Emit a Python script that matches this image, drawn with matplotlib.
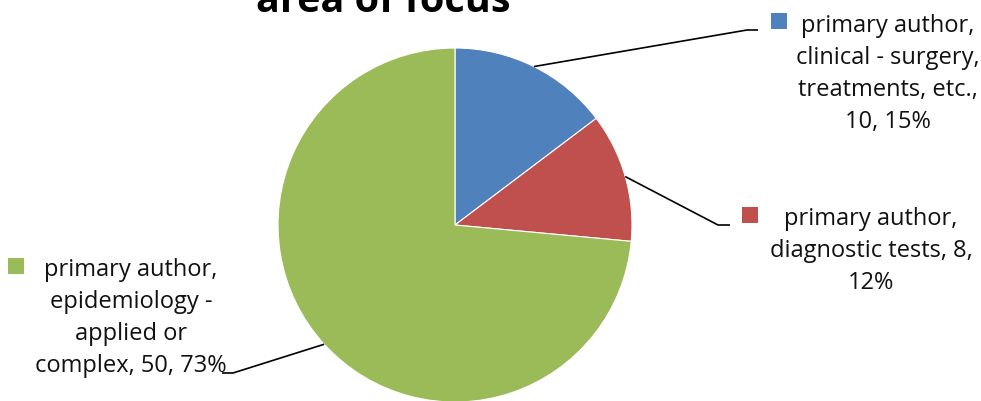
import textwrap
import numpy as np
import matplotlib.pyplot as plt

W, H = 981, 401

# data
categories = ["primary author, clinical - surgery, treatments, etc.",
              "primary author, diagnostic tests",
              "primary author, epidemiology - applied or complex"]
values = [10, 8, 50]
colors = ["#4F81BD", "#C0504D", "#9BBB59"]
title = "area of focus"

# layout (pixel coords, y measured from top)
center_px = (455, 225)
radius_px = 177
wrap_widths = [19, 20, 16]
label_pos = [(888, 74), (871, 251), (131, 318)]
key_pos = [(779, 21), (750, 215), (16, 266)]
elbows = [[(747, 30), (758, 30)],
          [(718, 225), (730, 225)],
          [(233, 373), (222, 373)]]


def py(y):
    return H - y


# percentages rounded so they add to 100 (like Excel)
vals = np.array(values, dtype=float)
raw = vals / vals.sum() * 100
pct = np.floor(raw).astype(int)
left = 100 - pct.sum()
for i in np.argsort(-(raw - pct))[:left]:
    pct[i] += 1

plt.rcParams['font.family'] = ['Open Sans', 'DejaVu Sans']
fig = plt.figure(figsize=(W / 100, H / 100), dpi=100)
ax = fig.add_axes([0, 0, 1, 1])

wedges, _ = ax.pie(values, colors=colors, startangle=90, counterclock=False,
                   center=(center_px[0], py(center_px[1])), radius=radius_px,
                   wedgeprops=dict(edgecolor='white', linewidth=0.8))

for i, w in enumerate(wedges):
    mid = np.deg2rad((w.theta1 + w.theta2) / 2)
    x0 = center_px[0] + radius_px * np.cos(mid)
    y0 = py(center_px[1]) + radius_px * np.sin(mid)
    xs = [x0] + [p[0] for p in elbows[i]]
    ys = [y0] + [py(p[1]) for p in elbows[i]]
    ax.plot(xs, ys, color='black', lw=1.2, solid_capstyle='butt')

    txt = textwrap.fill(f"{categories[i]}, {values[i]}, {pct[i]}%", wrap_widths[i])
    ax.text(label_pos[i][0], py(label_pos[i][1]), txt, ha='center', va='center',
            multialignment='center', fontsize=17, linespacing=1.45, color='#111111')
    ax.scatter([key_pos[i][0]], [py(key_pos[i][1])], marker='s', s=120,
               color=colors[i], linewidths=0)

ax.text(383, py(12), title, ha='center', va='baseline', fontsize=28.5,
        fontweight='bold')

ax.set_xlim(0, W)
ax.set_ylim(0, H)
ax.set_aspect('equal')
ax.axis('off')

fig.savefig("out.png", dpi=100)
